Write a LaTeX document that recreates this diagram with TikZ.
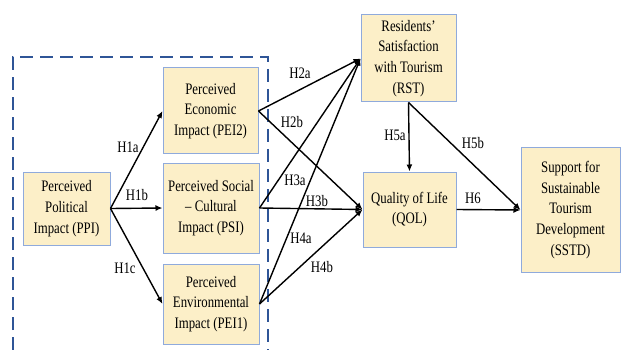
\documentclass[tikz,border=0pt]{standalone}
\usepackage{fontspec}
\setmainfont{Liberation Serif}[FakeStretch=0.8]
\usetikzlibrary{arrows.meta}
\definecolor{boxfill}{HTML}{FCEFC8}
\definecolor{boxline}{HTML}{8FAADC}
\definecolor{dashblue}{HTML}{2F5597}
\tikzset{
  cbox/.style={draw=boxline, line width=1pt, fill=boxfill, align=center, inner sep=0pt,
    font=\fontsize{16}{20.8}\selectfont},
  arr/.style={draw=black, line width=1.4pt, -{Latex[length=7pt,width=6pt]}},
  lab/.style={font=\fontsize{16}{19}\selectfont, inner sep=0pt},
  dashbox/.style={draw=dashblue, line width=1.8pt, dash pattern=on 13pt off 7pt}
}
\begin{document}
\begin{tikzpicture}[x=1pt,y=-1pt]
\useasboundingbox[fill=white] (0,0) rectangle (621,350);
\draw[dashbox] (13,350) -- (13,57) -- (268,57) -- (268,350);

\node[cbox, minimum width=87pt, minimum height=73pt] (ppi) at (66.5,208.5) {Perceived\\Political\\Impact (PPI)};
\node[cbox, minimum width=95pt, minimum height=86pt] (pei2) at (210.5,111) {Perceived\\Economic\\Impact (PEI2)};
\node[cbox, minimum width=96pt, minimum height=90pt] (psi) at (211,208) {Perceived Social\\– Cultural\\Impact (PSI)};
\node[cbox, minimum width=96pt, minimum height=80pt] (pei1) at (211,304) {Perceived\\Environmental\\Impact (PEI1)};
\node[cbox, minimum width=95pt, minimum height=87pt] (rst) at (408.5,58.5) {Residents’\\Satisfaction\\with Tourism\\(RST)};
\node[cbox, minimum width=93pt, minimum height=75pt] (qol) at (409.5,209.5) {Quality of Life\\(QOL)};
\node[cbox, minimum width=99pt, minimum height=124pt] (sstd) at (570.5,210) {Support for\\Sustainable\\Tourism\\Development\\(SSTD)};

\draw[arr] (ppi.east) -- (pei2.west);
\draw[arr] (ppi.east) -- (psi.west);
\draw[arr] (ppi.east) -- (pei1.west);
\draw[arr] (pei2.east) -- (rst.west);
\draw[arr] (pei2.east) -- (qol.west);
\draw[arr] (psi.east) -- (rst.west);
\draw[arr] (psi.east) -- (qol.west);
\draw[arr] (pei1.east) -- (rst.west);
\draw[arr] (pei1.east) -- (qol.west);
\draw[arr] (rst.south) -- (qol.north);
\draw[arr] (rst.south) -- (sstd.west);
\draw[arr] (qol.east) -- (sstd.west);

\node[lab] (h1a) at (128,147) {H1a};
\node[lab] (h1b) at (137,195) {H1b};
\node[lab] (h1c) at (125,268) {H1c};
\node[lab] (h2a) at (300,73) {H2a};
\node[lab] (h2b) at (292,122) {H2b};
\node[lab] (h3a) at (295,180) {H3a};
\node[lab] (h3b) at (317,201) {H3b};
\node[lab] (h4a) at (301,238) {H4a};
\node[lab] (h4b) at (322,267) {H4b};
\node[lab] (h5a) at (395,135) {H5a};
\node[lab] (h5b) at (473,143) {H5b};
\node[lab] (h6) at (473,198) {H6};
\end{tikzpicture}
\end{document}
